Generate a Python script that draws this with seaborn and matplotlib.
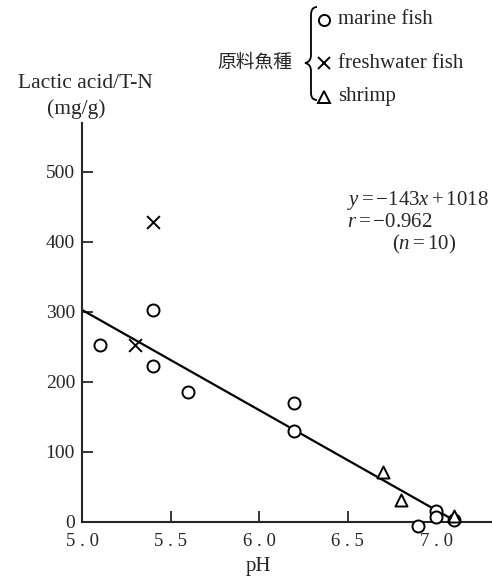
import numpy as np
import pandas as pd
import seaborn as sns
import matplotlib
matplotlib.use("Agg")
import matplotlib.pyplot as plt
from matplotlib.lines import Line2D
from matplotlib.path import Path
from matplotlib.patches import PathPatch

# ---- data ----
marine_ph = [5.1, 5.4, 5.4, 5.6, 6.2, 6.2, 6.9, 7.0, 7.0, 7.1]
marine_la = [253, 303, 223, 186, 170, 130, -5, 16, 7, 3]
fresh_ph = [5.3, 5.4]
fresh_la = [253, 428]
shrimp_ph = [6.7, 6.8, 7.1]
shrimp_la = [71, 31, 9]
fit_slope = -143
fit_intercept = 1018
fit_range = [5.0, 7.1]
xticks = [5.0, 5.5, 6.0, 6.5, 7.0]
xticklabels = ["5 . 0", "5 . 5", "6 . 0", "6 . 5", "7 . 0"]
yticks = [0, 100, 200, 300, 400, 500]
legend_labels = ["marine fish", "freshwater fish", "shrimp"]

sns.set_style("ticks")
plt.rcParams["font.family"] = ["Liberation Serif", "Noto Sans CJK JP"]
plt.rcParams["mathtext.fontset"] = "custom"
plt.rcParams["mathtext.rm"] = "Liberation Serif"
plt.rcParams["mathtext.it"] = "Liberation Serif:italic"

W, H = 492, 576
fig = plt.figure(figsize=(W / 100, H / 100), dpi=100)
ax = fig.add_axes([82 / W, 54 / H, (W - 82) / W, (522 - 123) / H])

fit_df = pd.DataFrame({"pH": fit_range,
                       "la": [fit_slope * x + fit_intercept for x in fit_range]})
sns.lineplot(data=fit_df, x="pH", y="la", color="black", lw=1.6, ax=ax)

mdf = pd.DataFrame({"pH": marine_ph, "la": marine_la})
fdf = pd.DataFrame({"pH": fresh_ph, "la": fresh_la})
sdf = pd.DataFrame({"pH": shrimp_ph, "la": shrimp_la})
sns.scatterplot(data=mdf, x="pH", y="la", marker="o", s=75, facecolor="white",
                edgecolor="black", linewidth=1.4, ax=ax, clip_on=False, zorder=3)
sns.scatterplot(data=fdf, x="pH", y="la", marker="x", s=85, color="black",
                linewidth=1.4, ax=ax, clip_on=False, zorder=3)
sns.scatterplot(data=sdf, x="pH", y="la", marker="^", s=75, facecolor="white",
                edgecolor="black", linewidth=1.4, ax=ax, clip_on=False, zorder=3)

ax.set_xlim(5.0, 5.0 + (W - 82) / 177)
ax.set_ylim(0, (522 - 123) / 0.7)
ax.set_xticks(xticks)
ax.set_xticklabels(xticklabels)
ax.set_yticks(yticks)
ax.set_yticklabels([str(v) for v in yticks])
ax.tick_params(direction="in", length=8, width=1.3, labelsize=14, pad=5)
ax.tick_params(axis="x", pad=8, labelsize=13.5)
sns.despine(ax=ax)
for sp in ("left", "bottom"):
    ax.spines[sp].set_linewidth(1.5)
ax.set_xlabel("")
ax.set_ylabel("")

def fx(px):
    return px / W

def fy(py):
    return 1 - py / H

fig.text(fx(258), fy(566), "pH", ha="center", va="center", fontsize=15)
fig.text(fx(85), fy(83), "Lactic acid/T-N", ha="center", va="center", fontsize=15.5)
fig.text(fx(76), fy(109), "(mg/g)", ha="center", va="center", fontsize=15.5)

# regression annotation
fig.text(fx(347), fy(200), r"$y=-143x+1018$", ha="left", va="center", fontsize=15)
fig.text(fx(347), fy(222), r"$r=-0.962$", ha="left", va="center", fontsize=15)
fig.text(fx(392), fy(244), r"$(n=10)$", ha="left", va="center", fontsize=15)

# legend with brace
fig.text(fx(255), fy(62), "原料魚種", ha="center", va="center", fontsize=13.5,
         family=["Noto Sans CJK JP"])
verts_px = [(317, 7), (311, 7), (311, 15),
            (311, 55),
            (311, 62), (305, 63),
            (311, 64), (311, 71),
            (311, 93),
            (311, 100), (317, 100)]
codes = [Path.MOVETO, Path.CURVE3, Path.CURVE3,
         Path.LINETO,
         Path.CURVE3, Path.CURVE3,
         Path.CURVE3, Path.CURVE3,
         Path.LINETO,
         Path.CURVE3, Path.CURVE3]
brace = Path([(fx(x), fy(y)) for x, y in verts_px], codes)
fig.add_artist(PathPatch(brace, fill=False, lw=1.3, edgecolor="black",
                         transform=fig.transFigure))
leg_marks = ["o", "x", "^"]
leg_y = [20, 63, 97]
for m, lbl, yy in zip(leg_marks, legend_labels, leg_y):
    fig.add_artist(Line2D([fx(324)], [fy(yy)], marker=m, markersize=8,
                          markerfacecolor="white", markeredgecolor="black",
                          markeredgewidth=1.4, color="black", linestyle="none",
                          transform=fig.transFigure))
    fig.text(fx(338), fy(yy), lbl, ha="left", va="center", fontsize=15)

fig.savefig("out.png", dpi=100)
